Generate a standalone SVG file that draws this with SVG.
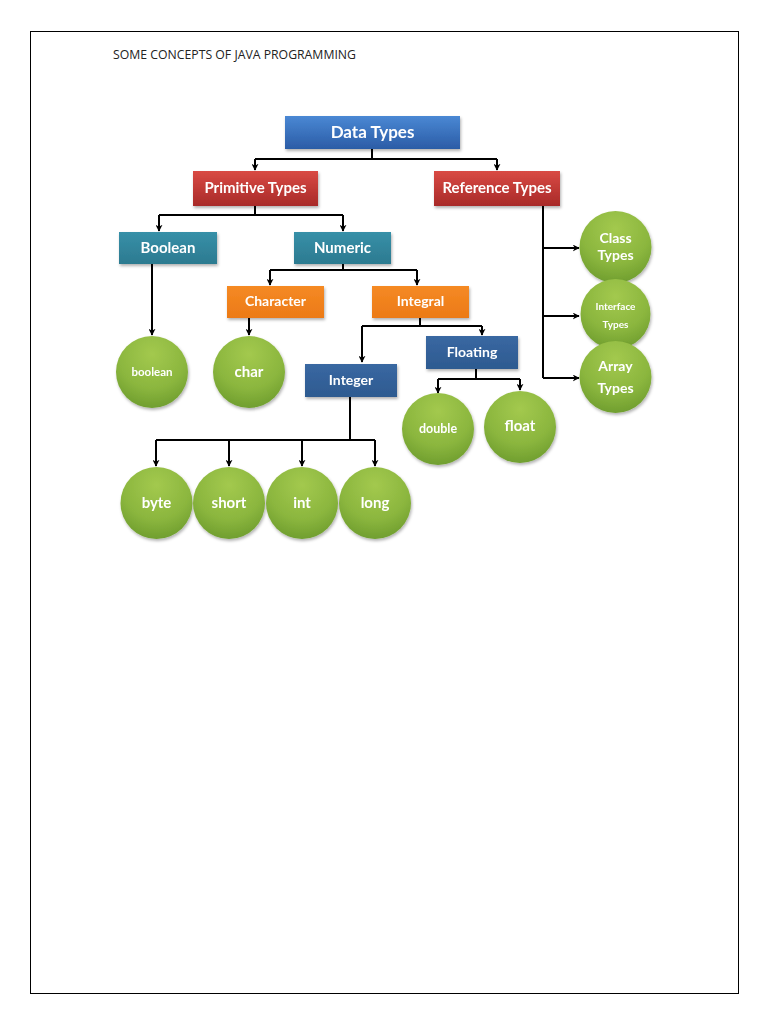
<svg xmlns="http://www.w3.org/2000/svg" width="768" height="1024" viewBox="0 0 768 1024">
<style>
.lbl{font-family:Lato,"Open Sans","Liberation Sans",sans-serif;font-weight:bold;fill:#fff;text-anchor:middle}
.conn path{fill:none;stroke:#000;stroke-width:2}
.box{filter:url(#sh)}
</style>
<defs>
<linearGradient id="gBlue" x1="0" y1="0" x2="0" y2="1"><stop offset="0" stop-color="#4a88d4"/><stop offset="1" stop-color="#2b5ca6"/></linearGradient>
<linearGradient id="gRed" x1="0" y1="0" x2="0" y2="1"><stop offset="0" stop-color="#d94a44"/><stop offset="1" stop-color="#a82a28"/></linearGradient>
<linearGradient id="gTeal" x1="0" y1="0" x2="0" y2="1"><stop offset="0" stop-color="#3790a8"/><stop offset="1" stop-color="#2c7a90"/></linearGradient>
<linearGradient id="gOr" x1="0" y1="0" x2="0" y2="1"><stop offset="0" stop-color="#f58a24"/><stop offset="1" stop-color="#ec7a16"/></linearGradient>
<linearGradient id="gNavy" x1="0" y1="0" x2="0" y2="1"><stop offset="0" stop-color="#3a68a2"/><stop offset="1" stop-color="#2d5a90"/></linearGradient>
<radialGradient id="gGreen" cx="0.5" cy="0.25" r="0.8"><stop offset="0" stop-color="#a3c94e"/><stop offset="0.6" stop-color="#8bb63e"/><stop offset="1" stop-color="#6b9a2c"/></radialGradient>
<filter id="sh" x="-20%" y="-20%" width="140%" height="150%"><feDropShadow dx="1" dy="2" stdDeviation="1.5" flood-color="#000" flood-opacity="0.3"/></filter>
<marker id="ar" viewBox="0 0 10 10" refX="9" refY="5" markerWidth="7" markerHeight="7" orient="auto" markerUnits="userSpaceOnUse">
<path d="M0,0 L10,5 L0,10 L3,5 Z" fill="#000"/>
</marker>
</defs>
<rect x="30.5" y="31.5" width="708" height="962" fill="#fff" stroke="#000" stroke-width="1"/>
<text x="113" y="59" font-family="'Open Sans','Liberation Sans',sans-serif" font-size="12" fill="#222" textLength="243" lengthAdjust="spacingAndGlyphs">SOME CONCEPTS OF JAVA PROGRAMMING</text>

<g class="conn" id="connectors">
<path d="M372,149 V159 M255,159 H497"/>
<path d="M255,159 V170" marker-end="url(#ar)"/>
<path d="M497,159 V170" marker-end="url(#ar)"/>
<path d="M255,206 V215 M159,215 H343"/>
<path d="M159,215 V231" marker-end="url(#ar)"/>
<path d="M343,215 V231" marker-end="url(#ar)"/>
<path d="M152,264 V335" marker-end="url(#ar)"/>
<path d="M343,264 V270 M270,270 H417"/>
<path d="M270,270 V285" marker-end="url(#ar)"/>
<path d="M417,270 V285" marker-end="url(#ar)"/>
<path d="M249,318 V335" marker-end="url(#ar)"/>
<path d="M420,318 V326 M362,326 H482"/>
<path d="M362,326 V362" marker-end="url(#ar)"/>
<path d="M482,326 V335" marker-end="url(#ar)"/>
<path d="M350,397 V440 M156,440 H375"/>
<path d="M156,440 V466" marker-end="url(#ar)"/>
<path d="M229,440 V466" marker-end="url(#ar)"/>
<path d="M302,440 V466" marker-end="url(#ar)"/>
<path d="M375,440 V466" marker-end="url(#ar)"/>
<path d="M476,369 V379 M438,379 H520"/>
<path d="M438,379 V393" marker-end="url(#ar)"/>
<path d="M520,379 V390" marker-end="url(#ar)"/>
<path d="M543,206 V378"/>
<path d="M543,248 H579" marker-end="url(#ar)"/>
<path d="M543,316 H579" marker-end="url(#ar)"/>
<path d="M543,378 H579" marker-end="url(#ar)"/>
</g>

<g id="n-datatypes" class="box"><rect x="285" y="116" width="175" height="33" fill="url(#gBlue)"/><text class="lbl" x="372.5" y="138" font-size="17">Data Types</text></g>
<g id="n-primitive" class="box"><rect x="193" y="171" width="125" height="35" fill="url(#gRed)"/><text class="lbl" x="255.5" y="193" font-size="15">Primitive Types</text></g>
<g id="n-reference" class="box"><rect x="434" y="171" width="126" height="35" fill="url(#gRed)"/><text class="lbl" x="497" y="193" font-size="15">Reference Types</text></g>
<g id="n-boolean" class="box"><rect x="119" y="232" width="98" height="32" fill="url(#gTeal)"/><text class="lbl" x="168" y="253" font-size="15">Boolean</text></g>
<g id="n-numeric" class="box"><rect x="294" y="232" width="97" height="32" fill="url(#gTeal)"/><text class="lbl" x="342.5" y="253" font-size="15">Numeric</text></g>
<g id="n-character" class="box"><rect x="227" y="286" width="97" height="32" fill="url(#gOr)"/><text class="lbl" x="275.5" y="306" font-size="14">Character</text></g>
<g id="n-integral" class="box"><rect x="372" y="286" width="97" height="32" fill="url(#gOr)"/><text class="lbl" x="420.5" y="306" font-size="14">Integral</text></g>
<g id="n-floating" class="box"><rect x="426" y="336" width="92" height="33" fill="url(#gNavy)"/><text class="lbl" x="472" y="357" font-size="14">Floating</text></g>
<g id="n-integer" class="box"><rect x="305" y="364" width="92" height="33" fill="url(#gNavy)"/><text class="lbl" x="351" y="385" font-size="14">Integer</text></g>

<g id="n-boolean-prim" class="box"><circle cx="152" cy="372" r="36" fill="url(#gGreen)"/><text class="lbl" x="152" y="375.5" font-size="11.5">boolean</text></g>
<g id="n-char" class="box"><circle cx="249" cy="372" r="36" fill="url(#gGreen)"/><text class="lbl" x="249" y="377" font-size="15">char</text></g>
<g id="n-double" class="box"><circle cx="438" cy="429" r="36" fill="url(#gGreen)"/><text class="lbl" x="438" y="433" font-size="12.5">double</text></g>
<g id="n-float" class="box"><circle cx="520" cy="427" r="36" fill="url(#gGreen)"/><text class="lbl" x="520" y="431" font-size="15">float</text></g>
<g id="n-byte" class="box"><circle cx="156.5" cy="503" r="36" fill="url(#gGreen)"/><text class="lbl" x="156.5" y="508" font-size="15">byte</text></g>
<g id="n-short" class="box"><circle cx="229" cy="503" r="36" fill="url(#gGreen)"/><text class="lbl" x="229" y="508" font-size="15">short</text></g>
<g id="n-int" class="box"><circle cx="302" cy="503" r="36" fill="url(#gGreen)"/><text class="lbl" x="302" y="508" font-size="15">int</text></g>
<g id="n-long" class="box"><circle cx="375" cy="503" r="36" fill="url(#gGreen)"/><text class="lbl" x="375" y="508" font-size="15">long</text></g>
<g id="n-class" class="box"><circle cx="615.5" cy="247" r="36" fill="url(#gGreen)"/><text class="lbl" x="615.5" y="243" font-size="14">Class</text><text class="lbl" x="615.5" y="260" font-size="14">Types</text></g>
<g id="n-interface" class="box"><circle cx="615.5" cy="314" r="35" fill="url(#gGreen)"/><text class="lbl" x="615.5" y="310" font-size="10">Interface</text><text class="lbl" x="615.5" y="328" font-size="10">Types</text></g>
<g id="n-array" class="box"><circle cx="615.5" cy="377" r="36" fill="url(#gGreen)"/><text class="lbl" x="615.5" y="371" font-size="14">Array</text><text class="lbl" x="615.5" y="393" font-size="14">Types</text></g>
</svg>
